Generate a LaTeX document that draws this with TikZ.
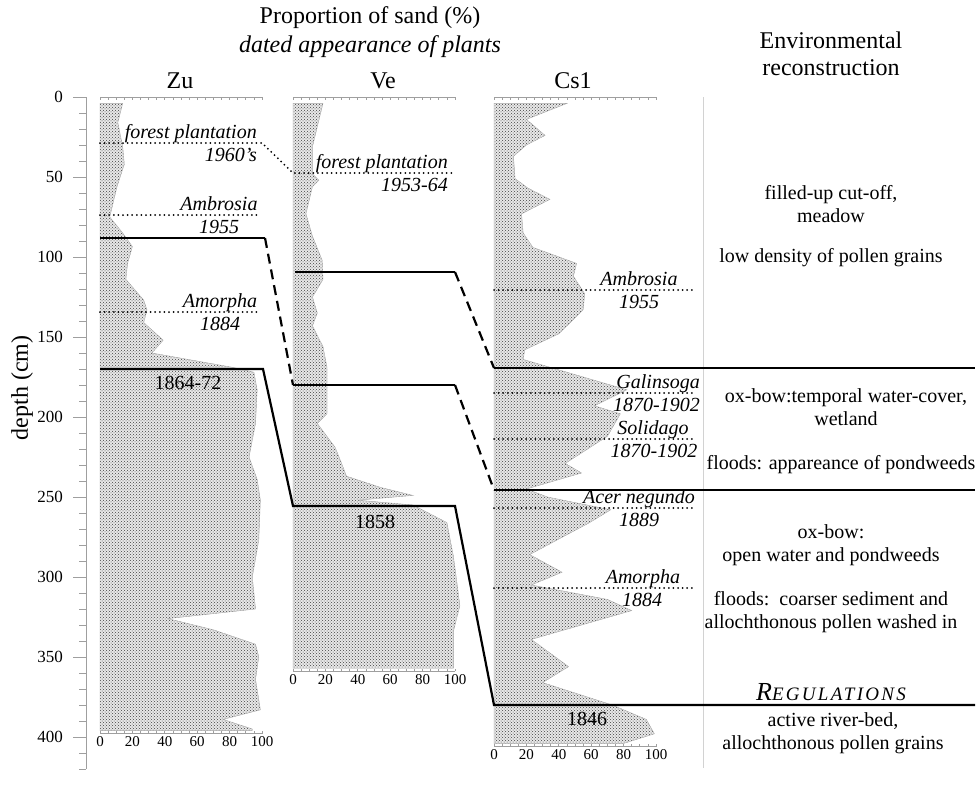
\documentclass[tikz,border=0pt]{standalone}
\usepackage{fontspec}
\setmainfont{Liberation Serif}
\usepackage{tikz}
\usetikzlibrary{patterns}

\begin{document}
\begin{tikzpicture}[
  x=1pt, y=-1pt,
  font=\fontsize{20}{23}\selectfont,
  title/.style={font=\fontsize{24}{27}\selectfont},
  plant/.style={font=\fontsize{20}{22}\selectfont\itshape, inner sep=0pt},
  env/.style={align=center, font=\fontsize{20}{23}\selectfont},
  year/.style={font=\fontsize{20}{22}\selectfont, inner sep=1pt},
  sand/.style={draw=gray!70, line width=0.4pt, preaction={fill=gray!18}, pattern=crosshatch dots, pattern color=black!75},
  bound/.style={line width=2.2pt},
  bounddash/.style={line width=2.2pt, dash pattern=on 10pt off 6pt},
  dated/.style={line width=2pt, line cap=round, dash pattern=on 0pt off 4.6pt},
  axis/.style={gray!75, line width=0.7pt},
  depthlab/.style={font=\fontsize{17}{18}\selectfont, anchor=east, inner sep=1pt},
  scalelab/.style={font=\fontsize{15}{16}\selectfont, anchor=north, inner sep=2pt},
]
\useasboundingbox (0,0) rectangle (979,787);

% ============ TITLES ============
\node[title] (prop) at (370,18) {Proportion of sand (\%)};
\node[title, font=\fontsize{24}{27}\selectfont\itshape] (dated) at (370,47) {dated appearance of plants};
\node[title, anchor=base] (zu) at (180,88) {Zu};
\node[title, anchor=base] (ve) at (383,88) {Ve};
\node[title, anchor=base] (cs) at (573,88) {Cs1};
\node[title, align=center] (envt) at (831,54) {Environmental\\reconstruction};
\node[title, rotate=90] (depth) at (22,388) {depth (cm)};

% ============ DEPTH AXIS ============
\draw[axis] (86,97) -- (86,769);
\foreach \d in {0,10,...,420} \draw[axis] (79,{97+1.6*\d}) -- (86,{97+1.6*\d});
\foreach \d in {0,50,...,400} {
  \draw[axis] (73,{97+1.6*\d}) -- (86,{97+1.6*\d});
  \node[depthlab] (dep\d) at (64,{97+1.6*\d}) {\d};
}

% ============ COLUMN Zu ============
\begin{scope}[shift={(100,97)}, x=1.62pt, y=-1.6pt]
\path[sand] (0,4) -- (14,4) -- (11,16) -- (14,31) -- (15,42) -- (10.5,56) -- (6,75)
  -- (14,85) -- (20,93.5) -- (17,104) -- (16,114) -- (27,127) -- (29,133) -- (27,141)
  -- (39,152) -- (32,160) -- (82,169) -- (95,172) -- (97,183) -- (96,204) -- (92,225)
  -- (97,239) -- (99,252) -- (98,277) -- (94,300) -- (96,320) -- (42,326) -- (70,333)
  -- (96,342) -- (98,350) -- (96,364) -- (99,383) -- (76,389) -- (94,395) -- (94,396)
  -- (0,396) -- cycle;
\draw[axis] (0,0) -- (100,0);
\foreach \t in {0,5,...,100} \draw[axis] (\t,0) -- (\t,1.6);
\draw[axis] (0,398) -- (100,398);
\foreach \t in {0,5,...,100} \draw[axis] (\t,398) -- (\t,396.4);
\foreach \t in {0,20,...,100} \node[scalelab] (zuS\t) at (\t,398.5) {\t};
\end{scope}

% ============ COLUMN Ve ============
\begin{scope}[shift={(293,97)}, x=1.62pt, y=-1.6pt]
\path[sand] (0,4) -- (18.5,4) -- (12,31) -- (12,48) -- (16,52) -- (12,56) -- (8,73)
  -- (12,87) -- (18,102) -- (18.5,114) -- (12,125) -- (15,135) -- (12,143) -- (18.5,156)
  -- (21,169) -- (21,181) -- (21,198) -- (15,204) -- (26,219) -- (30,229) -- (33,237)
  -- (54,244) -- (74,249) -- (40,252) -- (74,255) -- (95,266) -- (99,287) -- (101,302)
  -- (103,318) -- (99,334) -- (99,357) -- (0,357) -- cycle;
\draw[axis] (0,0) -- (100,0);
\foreach \t in {0,5,...,100} \draw[axis] (\t,0) -- (\t,1.6);
\draw[axis] (0,359) -- (100,359);
\foreach \t in {0,5,...,100} \draw[axis] (\t,359) -- (\t,357.4);
\foreach \t in {0,20,...,100} \node[scalelab] (veS\t) at (\t,359.5) {\t};
\end{scope}

% ============ COLUMN Cs1 ============
\begin{scope}[shift={(494,97)}, x=1.62pt, y=-1.6pt]
\path[sand] (0,4) -- (45,4) -- (20,14) -- (31.5,24) -- (20,30) -- (12,37) -- (13,51)
  -- (21,57) -- (34.5,64) -- (17,73) -- (18,85) -- (24,94) -- (51,104) -- (49,112)
  -- (56,123) -- (55,133) -- (40,148) -- (19,158) -- (18,164) -- (82,183) -- (62,193)
  -- (78,198) -- (70,212) -- (44,229) -- (54,235) -- (20,245) -- (33,250) -- (72,258)
  -- (59,266) -- (22,286) -- (42,297) -- (23,305) -- (70,314) -- (85,321) -- (23,339)
  -- (46,356) -- (30,366) -- (73,380) -- (94,389) -- (99,398) -- (80,404) -- (0,404) -- cycle;
\draw[axis] (0,0) -- (100,0);
\foreach \t in {0,5,...,100} \draw[axis] (\t,0) -- (\t,1.6);
\draw[axis] (0,406) -- (100,406);
\foreach \t in {0,5,...,100} \draw[axis] (\t,406) -- (\t,404.4);
\foreach \t in {0,20,...,100} \node[scalelab] (csS\t) at (\t,406.5) {\t};
\end{scope}

% separator of the reconstruction column
\coordinate (sepT) at (703,97);
\coordinate (sepB) at (703,768);
\draw[gray!35, line width=0.8pt] (sepT) -- (sepB);

% ============ DATED APPEARANCE OF PLANTS ============
\coordinate (zuFw) at (100,143); \coordinate (zuFe) at (262,143);
\coordinate (veFw) at (293,173); \coordinate (veFe) at (452,173);
\draw[dated] (zuFw) -- (zuFe) -- (veFw) -- (veFe);
\node[plant, anchor=base east] (zuFt) at (257,138) {forest plantation};
\node[plant, anchor=base east] (zuFd) at (257,161) {1960's};
\node[plant, anchor=base east] (veFt) at (448,168) {forest plantation};
\node[plant, anchor=base east] (veFd) at (448,191) {1953-64};

\coordinate (zuAmw) at (100,215); \coordinate (zuAme) at (257,215);
\draw[dated] (zuAmw) -- (zuAme);
\node[plant, anchor=base] (zuAmt) at (219,210) {Ambrosia};
\node[plant, anchor=base] (zuAmd) at (219,233) {1955};

\coordinate (zuApw) at (100,312); \coordinate (zuApe) at (257,312);
\draw[dated] (zuApw) -- (zuApe);
\node[plant, anchor=base] (zuApt) at (220,307) {Amorpha};
\node[plant, anchor=base] (zuApd) at (220,330) {1884};

\coordinate (csAmw) at (494,290); \coordinate (csAme) at (696,290);
\draw[dated] (csAmw) -- (csAme);
\node[plant, anchor=base] (csAmt) at (639,285) {Ambrosia};
\node[plant, anchor=base] (csAmd) at (639,308) {1955};

\coordinate (csGaw) at (494,393); \coordinate (csGae) at (696,393);
\draw[dated] (csGaw) -- (csGae);
\node[plant, anchor=base east] (csGat) at (700,388) {Galinsoga};
\node[plant, anchor=base east] (csGad) at (700,411) {1870-1902};

\coordinate (csSow) at (494,439); \coordinate (csSoe) at (696,439);
\draw[dated] (csSow) -- (csSoe);
\node[plant, anchor=base] (csSot) at (653,434) {Solidago};
\node[plant, anchor=base] (csSod) at (654,457) {1870-1902};

\coordinate (csAcw) at (494,508); \coordinate (csAce) at (696,508);
\draw[dated] (csAcw) -- (csAce);
\node[plant, anchor=base] (csAct) at (639,503) {Acer negundo};
\node[plant, anchor=base] (csAcd) at (639,526) {1889};

\coordinate (csApw) at (494,588); \coordinate (csApe) at (696,588);
\draw[dated] (csApw) -- (csApe);
\node[plant, anchor=base] (csApt) at (643,583) {Amorpha};
\node[plant, anchor=base] (csApd) at (642,606) {1884};

% ============ CORRELATION LINES ============
\coordinate (zuAw) at (100,238); \coordinate (zuAe) at (265,238);
\coordinate (veBw) at (293,385); \coordinate (veBe) at (455,385);
\coordinate (csBw) at (494,490); \coordinate (csBe) at (975,490);
\draw[bound] (zuAw) -- (zuAe);
\draw[bounddash] (zuAe) -- (veBw);
\draw[bound] (veBw) -- (veBe);
\draw[bounddash] (veBe) -- (csBw);
\draw[bound] (csBw) -- (csBe);

\coordinate (veAw) at (295,272); \coordinate (veAe) at (455,272);
\coordinate (csAw) at (494,368); \coordinate (csAe) at (975,368);
\draw[bound] (veAw) -- (veAe);
\draw[bounddash] (veAe) -- (csAw);
\draw[bound] (csAw) -- (csAe);

\coordinate (zuCw) at (100,369); \coordinate (zuCe) at (263,369);
\coordinate (veCw) at (293,506); \coordinate (veCe) at (455,506);
\coordinate (csCw) at (494,705); \coordinate (csCe) at (975,705);
\draw[bound] (zuCw) -- (zuCe) -- (veCw) -- (veCe) -- (csCw) -- (csCe);

\node[year] (y1864) at (188,383) {1864-72};
\node[year] (y1858) at (375,522) {1858};
\node[year] (y1846) at (587,719) {1846};

% ============ ENVIRONMENTAL RECONSTRUCTION ============
\node[env] (meadow) at (831,204) {filled-up cut-off,\\meadow};
\node[env] (lowdens) at (831,258) {low density of pollen grains};
\node[env] (wetland) at (846,407) {ox-bow:temporal water-cover,\\wetland};
\node[env] (flood1) at (841,465) {floods: appareance of pondweeds};
\node[env] (oxbow) at (831,545) {ox-bow:\\open water and pondweeds};
\node[env] (flood2) at (831,612) {floods:\ \ coarser sediment and\\allochthonous pollen washed in};
\node[font=\fontsize{26}{28}\selectfont\itshape] (reg) at (831,692)
  {R{\fontsize{19}{20}\selectfont\addfontfeatures{LetterSpace=12}EGULATIONS}};
\node[env] (riverbed) at (833,733) {active river-bed,\\allochthonous pollen grains};

\end{tikzpicture}
\end{document}
